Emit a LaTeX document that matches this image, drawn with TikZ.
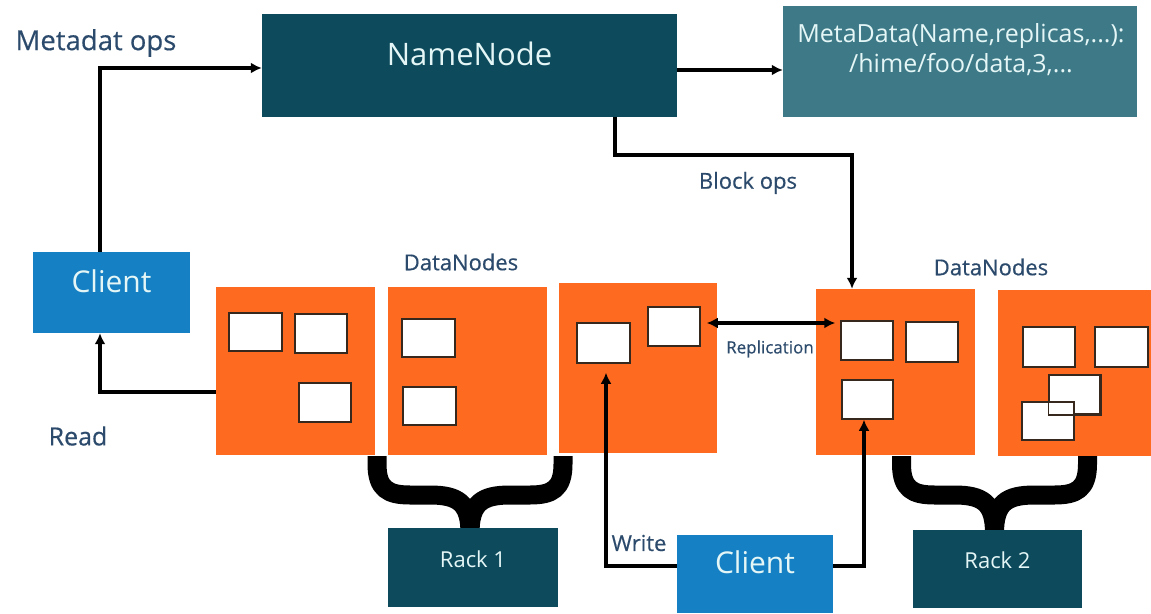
\documentclass[tikz,border=0pt]{standalone}
\usepackage{fontspec}
\setmainfont{Open Sans}
\newfontfamily\labelfont{Open Sans}[FakeBold=0.4]
\usetikzlibrary{arrows.meta,fit}

\definecolor{nnteal}{RGB}{13,74,92}
\definecolor{metateal}{RGB}{62,121,135}
\definecolor{clientblue}{RGB}{22,128,196}
\definecolor{dnorange}{RGB}{253,106,32}
\definecolor{labelblue}{RGB}{44,74,108}
\definecolor{boxtext}{RGB}{228,246,246}
\definecolor{blockedge}{RGB}{55,40,30}

\begin{document}
\begin{tikzpicture}[x=1pt,y=-1pt,
  fsz/.style={font=\fontsize{#1}{#1}\selectfont},
  lsz/.style={font=\labelfont\fontsize{#1}{#1}\selectfont},
  darkbox/.style={fill=nnteal, text=boxtext, inner sep=0pt},
  metabox/.style={fill=metateal, inner sep=0pt},
  clientbox/.style={fill=clientblue, text=boxtext, inner sep=0pt},
  dnbox/.style={fill=dnorange, inner sep=0pt},
  blockbox/.style={fill=white, draw=blockedge, line width=1.5pt, inner sep=0pt},
  lbl/.style={text=labelblue, inner sep=0pt},
  tip/.style={Latex[length=11pt,width=11pt]},
  conn/.style={line width=3.2pt, -{Latex[length=11pt,width=11pt]}},
  bracestroke/.style={line width=19pt, line join=round, black}]

\fill[white] (0,0) rectangle (1151,613);
\useasboundingbox (0,0) rectangle (1151,613);

% NameNode and its metadata table
\node[darkbox, fsz=31, fit={(262,14) (677,117)}] (nn) {NameNode};
\node[metabox, fit={(783,6) (1137,117)}] (meta) {};
\node[text=boxtext, align=center, font=\fontsize{25}{30}\selectfont] (metatxt) at (961,50)
  {MetaData(Name,replicas,...):\\/hime/foo/data,3,...};

% clients
\node[clientbox, fsz=30, fit={(33,252) (190,333)}] (c1) {Client};
\node[clientbox, fsz=30, fit={(677,535) (833,613)}] (c2) {Client};

% rack braces (drawn under the rack boxes)
\foreach \cx in {470,994.5} {
  \draw[bracestroke] (\cx-93,456) -- (\cx-93,464)
    .. controls (\cx-93,489) and (\cx-82,495) .. (\cx-60,495) -- (\cx-40,495)
    .. controls (\cx-12,495) and (\cx,503) .. (\cx,533);
  \draw[bracestroke] (\cx+93,456) -- (\cx+93,464)
    .. controls (\cx+93,489) and (\cx+82,495) .. (\cx+60,495) -- (\cx+40,495)
    .. controls (\cx+12,495) and (\cx,503) .. (\cx,533);
}

% racks
\node[darkbox, fsz=22, fit={(388,528) (558,607)}] (rack1) {Rack 1};
\node[darkbox, fsz=22, fit={(913,530) (1082,608)}] (rack2) {Rack 2};

% DataNodes
\node[dnbox, fit={(216,287) (375,455)}] (dn1) {};
\node[dnbox, fit={(388,287) (547,455)}] (dn2) {};
\node[dnbox, fit={(559,283) (717,453)}] (dn3) {};
\node[dnbox, fit={(816,289) (975,455)}] (dn4) {};
\node[dnbox, fit={(998,290) (1151,456)}] (dn5) {};

% data blocks
\node[blockbox, fit={(229,313) (282,351)}] (s11) {};
\node[blockbox, fit={(295,314) (347,353)}] (s12) {};
\node[blockbox, fit={(299,383) (351,422)}] (s13) {};
\node[blockbox, fit={(402,319) (455,357)}] (s21) {};
\node[blockbox, fit={(403,387) (456,425)}] (s22) {};
\node[blockbox, fit={(577,323) (630,363)}] (s31) {};
\node[blockbox, fit={(648,307) (700,346)}] (s32) {};
\node[blockbox, fit={(841,321) (893,360)}] (s41) {};
\node[blockbox, fit={(906,322) (958,362)}] (s42) {};
\node[blockbox, fit={(842,380) (893,419)}] (s43) {};
\node[blockbox, fit={(1023,327) (1075,367)}] (s51) {};
\node[blockbox, fit={(1095,327) (1148,367)}] (s52) {};
\node[blockbox, fit={(1049,375) (1100,414)}] (s53) {};
\node[blockbox, fit={(1022,402) (1074,440)}] (s54) {};
\draw[blockedge, line width=1.5pt] (s53.south west) rectangle (s53.north east);

% connectors
\coordinate (metaturn) at (100,68);
\draw[conn] (c1.north -| metaturn) -- (metaturn) -- (nn.west |- metaturn);

\coordinate (nmarrow) at (730,70);
\draw[conn] (nn.east |- nmarrow) -- (meta.west |- nmarrow);

\coordinate (bt1) at (615,155);
\coordinate (bt2) at (852,155);
\draw[conn] (nn.south -| bt1) -- (bt1) -- (bt2) -- (dn4.north -| bt2);

\coordinate (readturn) at (100,392);
\draw[conn] (dn1.west |- readturn) -- (readturn) -- (c1.south -| readturn);

\coordinate (repl) at (770,323);
\draw[line width=3.2pt, {Latex[length=11pt,width=11pt]}-{Latex[length=11pt,width=11pt]},
  shorten <=6pt, shorten >=5pt] (s32.east |- repl) -- (s41.west |- repl);

\coordinate (w1) at (606,566);
\draw[conn, shorten >=9pt] (c2.west |- w1) -- (w1) -- (s31.south -| w1);

\coordinate (w2) at (864,566);
\draw[conn] (c2.east |- w2) -- (w2) -- (s43.south -| w2);

% labels
\node[lbl, lsz=27.5] (lmeta) at (96,43) {Metadat ops};
\node[lbl, lsz=22] (lblock) at (748,183) {Block ops};
\node[lbl, lsz=22] (ldn1) at (461,262) {DataNodes};
\node[lbl, lsz=22] (ldn2) at (991,267) {DataNodes};
\node[lbl, lsz=25] (lread) at (78,436) {Read};
\node[lbl, lsz=17] (lrepl) at (770,349) {Replication};
\node[lbl, lsz=22] (lwrite) at (639,543) {Write};

\end{tikzpicture}
\end{document}
